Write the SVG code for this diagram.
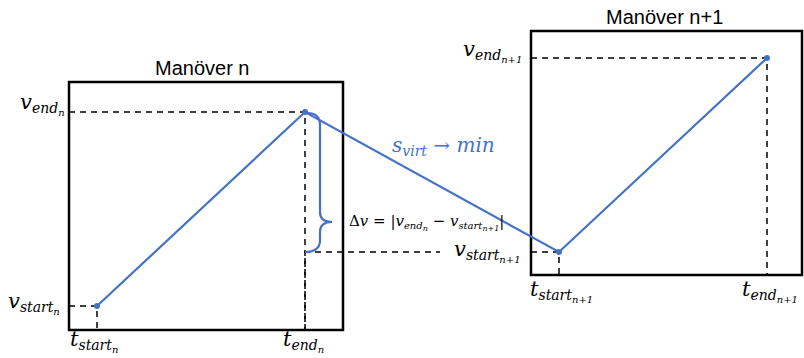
<svg xmlns="http://www.w3.org/2000/svg" width="804" height="358" viewBox="0 0 804 358">
<style>
.box{fill:none;stroke:#000;stroke-width:2.5}
.dash{fill:none;stroke:#000;stroke-width:1.5;stroke-dasharray:6,5}
.blue{fill:none;stroke:#4472C4;stroke-width:2.2}
.pt{fill:#4472C4}
.m{font-family:"DejaVu Serif",serif;font-style:italic;fill:#000}
.title{font-family:"Liberation Sans",Arial,sans-serif;font-size:20px;fill:#000}
.b{font-size:21px}
.s{font-size:14px}
.ss{font-size:10px}
</style>
<rect width="804" height="358" fill="#fff"/>
<g id="box-n">
<rect class="box" x="69" y="82" width="274" height="248"/>
<text class="title" x="155" y="75">Manöver n</text>
</g>
<g id="box-n1">
<rect class="box" x="531" y="31" width="271" height="244"/>
<text class="title" x="606" y="24">Manöver n+1</text>
</g>
<g id="guides">
<path class="dash" d="M69,112H305V330"/>
<path class="dash" d="M69,306H97V330"/>
<path class="dash" d="M305,330V252H440"/>
<path class="dash" d="M531,252H559V275"/>
<path class="dash" d="M531,58H767V275"/>
</g>
<g id="connectors">
<path class="blue" d="M97,306L305,112L559,252L767,58"/>
<path class="blue" d="M307,113Q320,113 320,125V212Q320,222 332,222Q320,222 320,232V240Q320,252 305,252"/>
</g>
<g id="points">
<circle class="pt" cx="97" cy="306" r="3"/>
<circle class="pt" cx="305" cy="112" r="3"/>
<circle class="pt" cx="559" cy="252" r="3"/>
<circle class="pt" cx="767" cy="58" r="3"/>
</g>
<g id="labels">
<text class="m" x="20" y="109"><tspan class="b">v</tspan><tspan class="s" dy="4">end</tspan><tspan class="ss" dy="3">n</tspan></text>
<text class="m" x="8" y="308"><tspan class="b">v</tspan><tspan class="s" dy="4">start</tspan><tspan class="ss" dy="3">n</tspan></text>
<text class="m" x="70" y="346"><tspan class="b">t</tspan><tspan class="s" dy="4">start</tspan><tspan class="ss" dy="3">n</tspan></text>
<text class="m" x="283" y="346"><tspan class="b">t</tspan><tspan class="s" dy="4">end</tspan><tspan class="ss" dy="3">n</tspan></text>
<text class="m" x="463" y="56"><tspan class="b">v</tspan><tspan class="s" dy="4">end</tspan><tspan class="ss" dy="3">n+1</tspan></text>
<text class="m" x="454" y="256"><tspan class="b">v</tspan><tspan class="s" dy="4">start</tspan><tspan class="ss" dy="3">n+1</tspan></text>
<text class="m" x="530" y="296"><tspan class="b">t</tspan><tspan class="s" dy="4">start</tspan><tspan class="ss" dy="3">n+1</tspan></text>
<text class="m" x="742" y="296"><tspan class="b">t</tspan><tspan class="s" dy="4">end</tspan><tspan class="ss" dy="3">n+1</tspan></text>
<text class="m" x="349" y="226" font-size="15"><tspan font-style="normal">Δ</tspan>v = |v<tspan font-size="10" dy="3">end</tspan><tspan font-size="8" dy="2">n</tspan><tspan dy="-5"> − v</tspan><tspan font-size="10" dy="3">start</tspan><tspan font-size="8" dy="2">n+1</tspan><tspan dy="-5">|</tspan></text>
<text class="m" x="392" y="152" style="fill:#4472C4"><tspan font-size="20">s</tspan><tspan font-size="14" dy="4">virt</tspan><tspan font-size="20" dy="-4" font-style="normal"> → </tspan><tspan font-size="20">min</tspan></text>
</g>
</svg>
